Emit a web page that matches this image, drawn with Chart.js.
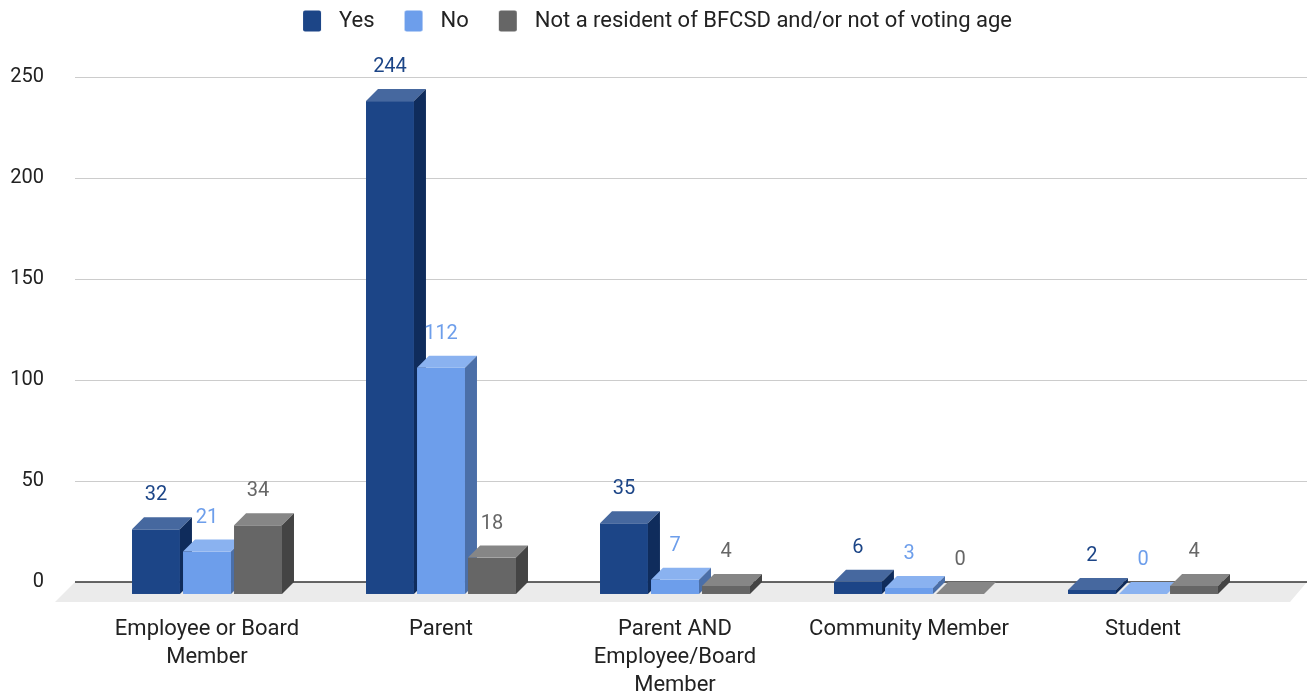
<!DOCTYPE html>
<html>
<head>
<meta charset="utf-8">
<script src="https://cdn.jsdelivr.net/npm/chart.js@4"></script>
<style>
  body { margin: 0; background: #fff; }
</style>
</head>
<body>
<canvas id="myChart" width="1307" height="692"></canvas>
<script>
var categories = [
    ['Employee or Board', 'Member'],
    'Parent',
    ['Parent AND', 'Employee/Board', 'Member'],
    'Community Member',
    'Student'
];
var seriesNames = ['Yes', 'No', 'Not a resident of BFCSD and/or not of voting age'];
var yesValues = [32, 244, 35, 6, 2];
var noValues = [21, 112, 7, 3, 0];
var notResidentValues = [34, 18, 4, 0, 4];
var yTicks = [0, 50, 100, 150, 200, 250];

// front / top / side shades for the fake 3d look
var shades = [
    { front: '#1c4587', top: '#46689f', side: '#0f2c5c' },
    { front: '#6d9eeb', top: '#8ab2f0', side: '#4b6fa8' },
    { front: '#666666', top: '#868686', side: '#444444' }
];
var DEPTH = 12;
var LEGEND_W = 45;

// legend swatches: transparent lead-in, then an 18x21 box
function legendBox(color) {
    var cv = document.createElement('canvas');
    cv.width = LEGEND_W;
    cv.height = 22;
    var g = cv.getContext('2d');
    g.fillStyle = color;
    g.beginPath();
    g.roundRect(LEGEND_W - 25, 0.5, 18, 21, 2);
    g.fill();
    return cv;
}

var bars3d = {
    id: 'bars3d',
    beforeLayout: function (chart) {
        var lg = chart.legend;
        if (lg && !lg._tall) {
            var fit = lg.fit;
            lg.fit = function () {
                fit.call(this);
                this.height += 35;
            };
            lg._tall = true;
        }
    },
    beforeDatasetsDraw: function (chart) {
        var c = chart.ctx;
        var y = chart.scales.y;
        var area = chart.chartArea;
        var zero = y.getPixelForValue(0);
        var gLeft = area.left - 15;
        var gRight = chart.width;

        // grid lines on the back wall
        c.save();
        c.strokeStyle = '#cccccc';
        c.lineWidth = 1;
        yTicks.forEach(function (v) {
            if (v === 0) return;
            var py = Math.round(y.getPixelForValue(v)) + 0.5;
            c.beginPath();
            c.moveTo(gLeft, py);
            c.lineTo(gRight, py);
            c.stroke();
        });

        // floor
        c.fillStyle = '#ebebeb';
        c.beginPath();
        c.moveTo(gLeft, zero);
        c.lineTo(gRight, zero);
        c.lineTo(gRight - 17, zero + 20);
        c.lineTo(gLeft - 20, zero + 20);
        c.closePath();
        c.fill();

        c.strokeStyle = '#333333';
        c.lineWidth = 1.5;
        c.beginPath();
        c.moveTo(gLeft, zero);
        c.lineTo(gRight, zero);
        c.stroke();

        // bars, category by category, left to right
        var n = chart.data.labels.length;
        for (var j = 0; j < n; j++) {
            for (var i = 0; i < chart.data.datasets.length; i++) {
                var el = chart.getDatasetMeta(i).data[j];
                var s = shades[i];
                var w = el.width;
                var x0 = el.x - w / 2;
                var x1 = el.x + w / 2;
                var top = el.y + DEPTH;
                var bottom = el.base + DEPTH;

                c.fillStyle = s.front;
                c.fillRect(x0, top, w, bottom - top);

                c.fillStyle = s.top;
                c.beginPath();
                c.moveTo(x0, top);
                c.lineTo(x1, top);
                c.lineTo(x1 + DEPTH, top - DEPTH);
                c.lineTo(x0 + DEPTH, top - DEPTH);
                c.closePath();
                c.fill();

                c.fillStyle = s.side;
                c.beginPath();
                c.moveTo(x1, top);
                c.lineTo(x1 + DEPTH, top - DEPTH);
                c.lineTo(x1 + DEPTH, bottom - DEPTH);
                c.lineTo(x1, bottom);
                c.closePath();
                c.fill();
            }
        }

        // value labels
        c.font = '20px Roboto';
        c.textAlign = 'center';
        c.textBaseline = 'middle';
        chart.data.datasets.forEach(function (ds, i) {
            chart.getDatasetMeta(i).data.forEach(function (el, j) {
                c.fillStyle = shades[i].front;
                c.fillText(ds.data[j], el.x, el.y - 22);
            });
        });
        c.restore();
        return false;
    }
};

var ctx = document.getElementById('myChart').getContext('2d');
var myChart = new Chart(ctx, {
    type: 'bar',
    data: {
        labels: categories,
        datasets: [
            { label: seriesNames[0], data: yesValues, backgroundColor: shades[0].front },
            { label: seriesNames[1], data: noValues, backgroundColor: shades[1].front },
            { label: seriesNames[2], data: notResidentValues, backgroundColor: shades[2].front }
        ]
    },
    options: {
        responsive: false,
        animation: false,
        categoryPercentage: 0.654,
        barPercentage: 0.94,
        layout: { padding: { left: 10, right: 22, top: 0, bottom: -42 } },
        plugins: {
            tooltip: { enabled: false },
            legend: {
                position: 'top',
                labels: {
                    font: { family: 'Roboto', size: 22 },
                    color: '#222222',
                    usePointStyle: true,
                    pointStyleWidth: LEGEND_W,
                    boxHeight: 22,
                    padding: 10,
                    generateLabels: function (chart) {
                        var items = Chart.defaults.plugins.legend.labels.generateLabels(chart);
                        items.forEach(function (it, i) {
                            it.pointStyle = legendBox(shades[i].front);
                        });
                        return items;
                    }
                }
            }
        },
        scales: {
            x: {
                grid: { display: false, drawTicks: false },
                border: { display: false },
                ticks: {
                    font: { family: 'Roboto', size: 22, lineHeight: 1.273 },
                    color: '#222222',
                    autoSkip: false,
                    maxRotation: 0,
                    padding: 34
                }
            },
            y: {
                min: 0,
                max: 250,
                grid: { display: false, drawTicks: false },
                border: { display: false },
                ticks: {
                    stepSize: 50,
                    font: { family: 'Roboto', size: 20 },
                    color: '#222222',
                    padding: 46
                },
                afterFit: function (scale) { scale.width = 80; }
            },
            yRight: {
                position: 'right',
                min: 0,
                max: 1,
                grid: { display: false, drawTicks: false },
                border: { display: false },
                ticks: { display: false },
                afterFit: function (scale) { scale.width = 25; }
            }
        }
    },
    plugins: [bars3d]
});
</script>
</body>
</html>
